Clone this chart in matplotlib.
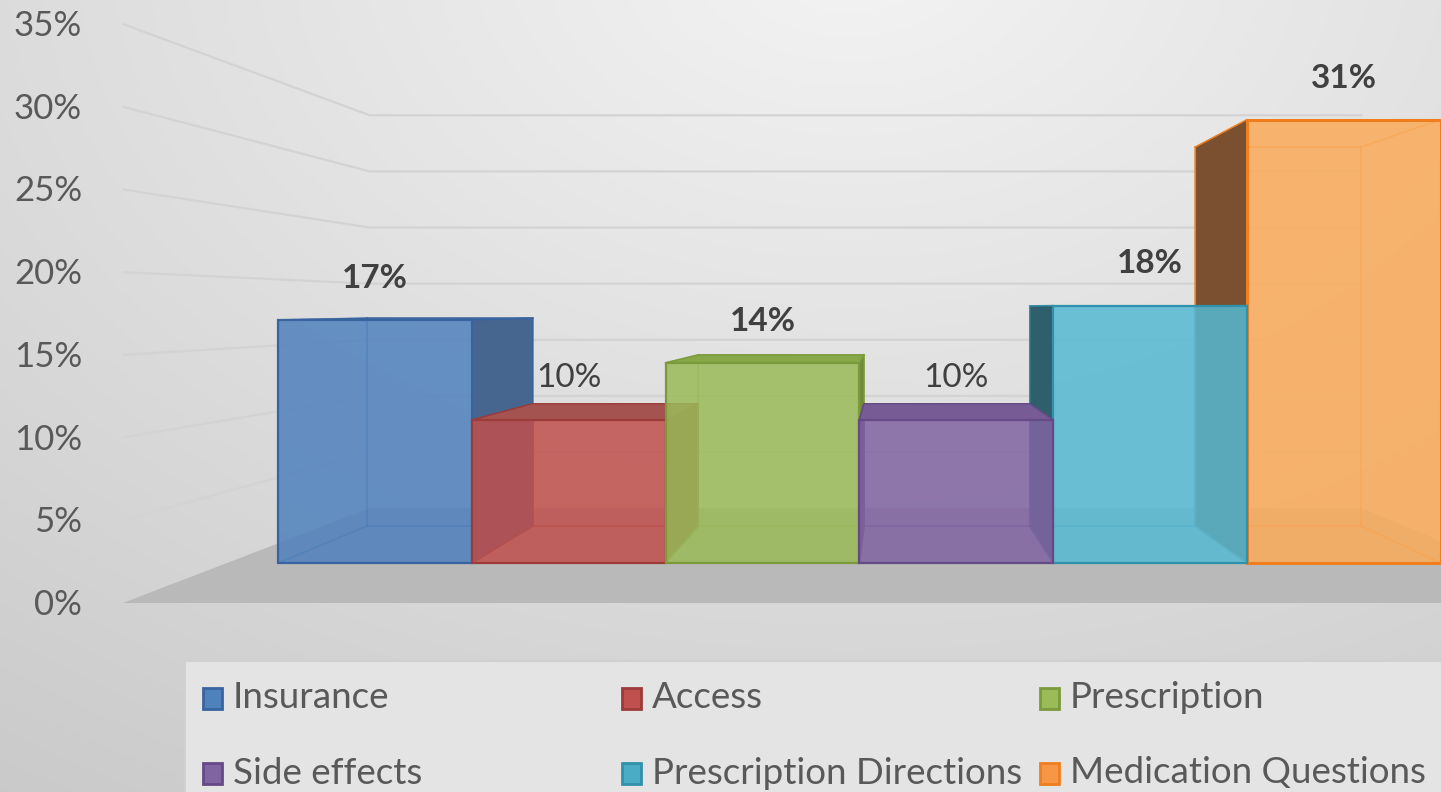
import numpy as np
import matplotlib.pyplot as plt
from matplotlib.patches import Polygon, Rectangle

plt.rcParams['font.family'] = ['Lato', 'DejaVu Sans']

# data
categories = ['Insurance', 'Access', 'Prescription', 'Side effects',
              'Prescription Directions', 'Medication Questions']
values = [17, 10, 14, 10, 18, 31]  # percent
y_ticks = [0, 5, 10, 15, 20, 25, 30, 35]
y_tick_labels = ['0%', '5%', '10%', '15%', '20%', '25%', '30%', '35%']
label_bold = [True, False, True, False, True, True]

# Office 2010 palette
colors = ['#4F81BD', '#C0504D', '#9BBB59', '#8064A2', '#4BACC6', '#F79646']
face_colors = ['#4F81BD', '#C0504D', '#9BBB59', '#8064A2', '#55B9D3', '#FBAB59']
edge_colors = ['#3a64a0', '#9c3c3a', '#7b9a3c', '#654a86', '#3190aa', '#f07e1e']
side_colors = ['#46668f', '#8e3f3d', '#6f8a3a', '#5c4478', '#2f5f6c', '#7a5030']
top_colors = ['#4d6f9c', '#a55350', '#86a847', '#765b94', '#3f8fa5', '#d9823d']

# perspective set-up (pixel space of the figure)
VPX, VPY = 891, 308          # vanishing point
X0, BAR_W = 278, 193.8       # left edge and width of bars in the front plane
Y0, PX_PER_PCT = 563, 14.3   # base line and scale in the front plane
S_BACK, S_LABEL, S_WALL = 0.855, 1.157, 0.785
WALL_X = X0 - 51
RIGHT_X = X0 + len(values) * BAR_W + 51


def proj(xf, pct, s):
    yf = Y0 - PX_PER_PCT * pct
    return (VPX + (xf - VPX) * s, VPY + (yf - VPY) * s)


W, H = 1441, 792
fig = plt.figure(figsize=(W / 100, H / 100), dpi=100)
ax = fig.add_axes([0, 0, 1, 1])
ax.set_xlim(0, W)
ax.set_ylim(H, 0)
ax.axis('off')

# background gradient
gx, gy = np.meshgrid(np.arange(W), np.arange(H))
r = np.sqrt(((gx - 850) / 1100.0) ** 2 + ((gy + 50) / 750.0) ** 2)
val = np.clip(0.955 - 0.12 * r, 0, 1)
ax.imshow(np.dstack([val, val, val]), extent=[0, W, H, 0], zorder=0)

# floor
floor = [proj(WALL_X, 0, S_LABEL), proj(WALL_X, 0, S_WALL),
         proj(RIGHT_X, 0, S_WALL), proj(RIGHT_X, 0, S_LABEL)]
ax.add_patch(Polygon(floor, closed=True, facecolor='#b9b9b9', edgecolor='none', zorder=1))

# gridlines and tick labels
for t, lab in zip(y_ticks, y_tick_labels):
    p1 = proj(WALL_X, t, S_LABEL)
    p2 = proj(WALL_X, t, S_WALL)
    p3 = proj(RIGHT_X, t, S_WALL)
    if t > 0:
        ax.plot([p1[0], p2[0], p3[0]], [p1[1], p2[1], p3[1]],
                color='#d3d3d3', lw=1.6, zorder=2, solid_capstyle='butt')
    ax.text(82, p1[1] + 2, lab, ha='right', va='center', fontsize=25, color='#595959')

# bars, outermost first
order = sorted(range(len(values)), key=lambda i: -abs(X0 + (i + 0.5) * BAR_W - VPX))
z = 3
for i in order:
    v = values[i]
    xl = X0 + i * BAR_W
    xr = xl + BAR_W
    flb, frb, frt, flt = proj(xl, 0, 1), proj(xr, 0, 1), proj(xr, v, 1), proj(xl, v, 1)
    blb, brb, brt, blt = (proj(xl, 0, S_BACK), proj(xr, 0, S_BACK),
                          proj(xr, v, S_BACK), proj(xl, v, S_BACK))
    # hidden edges seen through the bar
    for a, b in [(blb, brb), (brb, brt), (brt, blt), (blt, blb),
                 (flb, blb), (frb, brb), (frt, brt), (flt, blt)]:
        ax.plot([a[0], b[0]], [a[1], b[1]], color=edge_colors[i], lw=1.2,
                alpha=0.6, zorder=z)
    # visible side face
    center = (xl + xr) / 2
    side = [frb, brb, brt, frt] if center < VPX else [flb, blb, blt, flt]
    ax.add_patch(Polygon(side, closed=True, facecolor=side_colors[i],
                         edgecolor=edge_colors[i], lw=1, zorder=z + 0.1))
    # top face when seen from above
    if flt[1] > VPY:
        ax.add_patch(Polygon([flt, frt, brt, blt], closed=True, facecolor=top_colors[i],
                             edgecolor=edge_colors[i], lw=1, zorder=z + 0.2))
    # front face
    lw = 2.2 if i == 5 else 1.6
    ax.add_patch(Polygon([flb, frb, frt, flt], closed=True, facecolor=face_colors[i],
                         alpha=0.85, edgecolor='none', zorder=z + 0.3))
    ax.add_patch(Polygon([flb, frb, frt, flt], closed=True, facecolor='none',
                         edgecolor=edge_colors[i], lw=lw, zorder=z + 0.4))
    ax.annotate(f'{v}%', ((flt[0] + frt[0]) / 2, flt[1]), xytext=(0, 30),
                textcoords='offset points', ha='center', va='center', fontsize=24,
                fontweight='bold' if label_bold[i] else 'normal', color='#404040',
                zorder=20)
    z += 1

# legend
ax.add_patch(Rectangle((185, 661), W, 200, facecolor='#e4e4e4', edgecolor='#d0d0d0',
                       lw=1.5, zorder=21))
col_x = [203, 622, 1040]
row_y = [698, 773]
for k, name in enumerate(categories):
    cx = col_x[k % 3]
    cy = row_y[k // 3]
    ax.add_patch(Rectangle((cx, cy - 10), 19, 21, facecolor=colors[k],
                           edgecolor=edge_colors[k], lw=2, zorder=22))
    ax.text(cx + 30, cy, name, ha='left', va='center', fontsize=26.5, color='#595959',
            zorder=22)

fig.savefig('out.png', dpi=100)
